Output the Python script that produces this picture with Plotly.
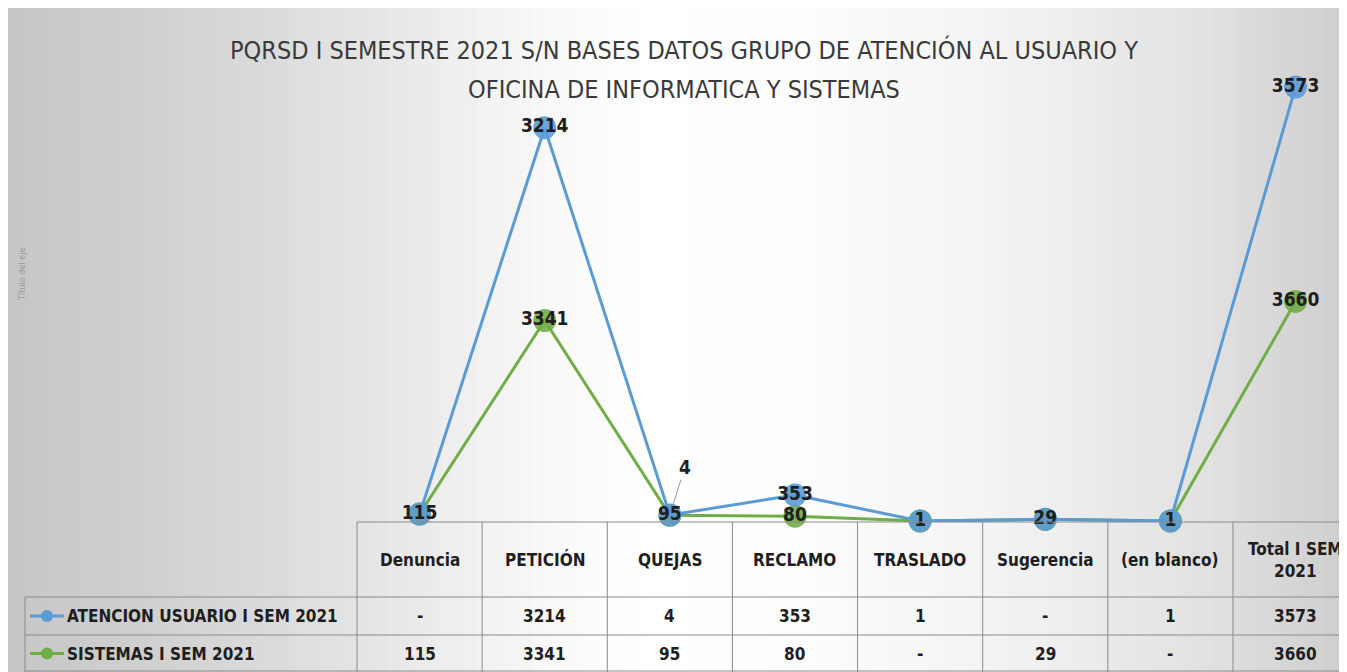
import plotly.graph_objects as go

# ---------------- data ----------------
categories = ["Denuncia", "PETICIÓN", "QUEJAS", "RECLAMO", "TRASLADO",
              "Sugerencia", "(en blanco)", "Total I SEM 2021"]
header_labels = ["Denuncia", "PETICIÓN", "QUEJAS", "RECLAMO", "TRASLADO",
                 "Sugerencia", "(en blanco)", "Total I SEM<br>2021"]
atencion = [0, 3214, 4, 353, 1, 0, 1, 3573]
sistemas = [115, 3341, 95, 80, 0, 29, 0, 3660]
series_names = ["ATENCION USUARIO I SEM 2021", "SISTEMAS I SEM 2021"]
title_lines = ["PQRSD I SEMESTRE 2021 S/N BASES DATOS GRUPO DE ATENCIÓN AL USUARIO Y",
               "OFICINA DE INFORMATICA Y SISTEMAS"]

# page has an 8px body margin, so the figure covers screen px 8..1347 / 8..672
OFF = 8
W, H = 1347 - OFF, 672 - OFF
FONT = "Liberation Sans Narrow, DejaVu Sans Condensed, Arial Narrow, sans-serif"
BLUE = "#5b9bd5"
GREEN = "#70ad47"
TXT = "#1e1e1e"

# stacked line (Excel "stacked line"): sistemas at the bottom, atencion on top
stack_green = list(sistemas)
stack_blue = [a + s for a, s in zip(atencion, sistemas)]


def px_x(p):
    return (p - OFF) / W


def px_y(p):
    return (672 - p) / H


fig = go.Figure()

fig.add_trace(go.Scatter(x=categories, y=stack_green, mode="lines+markers",
                         line=dict(color=GREEN, width=3),
                         marker=dict(color=GREEN, size=23, opacity=0.9),
                         cliponaxis=False, showlegend=False, hoverinfo="skip"))
fig.add_trace(go.Scatter(x=categories, y=stack_blue, mode="lines+markers",
                         line=dict(color=BLUE, width=3),
                         marker=dict(color=BLUE, size=23, opacity=0.9),
                         cliponaxis=False, showlegend=False, hoverinfo="skip"))

green_text = [str(v) if v else "" for v in sistemas]
blue_text = [str(v) if v else "" for v in atencion]
blue_text[2] = ""  # QUEJAS label drawn with a leader line
for ys, txt in ((stack_green, green_text), (stack_blue, blue_text)):
    fig.add_trace(go.Scatter(x=categories, y=ys, mode="text", text=txt,
                             textposition="middle center",
                             textfont=dict(family=FONT, size=19, color=TXT, weight="bold"),
                             cliponaxis=False, showlegend=False, hoverinfo="skip"))

annotations = []
annotations.append(dict(x=categories[2], y=stack_blue[2], xref="x", yref="y",
                        text=f"<b>{atencion[2]}</b>", showarrow=True, arrowhead=0,
                        arrowwidth=1, arrowcolor="#9a9a9a", ax=15, ay=-48, standoff=11,
                        font=dict(family=FONT, size=19, color=TXT)))

annotations.append(dict(x=px_x(684), y=px_y(50), xref="paper", yref="paper",
                        text=title_lines[0], showarrow=False, xanchor="center", yanchor="middle",
                        font=dict(family=FONT, size=25, color="#3a3a3a")))
annotations.append(dict(x=px_x(684), y=px_y(90), xref="paper", yref="paper",
                        text=title_lines[1], showarrow=False, xanchor="center", yanchor="middle",
                        font=dict(family=FONT, size=25, color="#3a3a3a")))
annotations.append(dict(x=px_x(15), y=px_y(275), xref="paper", yref="paper",
                        text="Título del eje", showarrow=False, textangle=-90,
                        font=dict(family=FONT, size=9, color="#9a9a9a")))

# ---------------- data table ----------------
TOP, R1, R2, BOT = 522, 597, 635, 672
for i, lab in enumerate(header_labels):
    annotations.append(dict(x=categories[i], y=px_y((TOP + R1) / 2), xref="x", yref="paper",
                            text=f"<b>{lab}</b>", showarrow=False, xanchor="center",
                            yanchor="middle",
                            font=dict(family=FONT, size=17, color=TXT)))
for vals, yc in ((atencion, (R1 + R2) / 2), (sistemas, (R2 + BOT) / 2)):
    for i, v in enumerate(vals):
        annotations.append(dict(x=categories[i], y=px_y(yc), xref="x", yref="paper",
                                text=f"<b>{v if v else '-'}</b>", showarrow=False,
                                xanchor="center", yanchor="middle",
                                font=dict(family=FONT, size=17, color=TXT)))
for name, yc in zip(series_names, ((R1 + R2) / 2, (R2 + BOT) / 2)):
    annotations.append(dict(x=px_x(65), y=px_y(yc), xref="paper", yref="paper",
                            text=f"<b>{name}</b>", showarrow=False, xanchor="left",
                            yanchor="middle", font=dict(family=FONT, size=17, color=TXT)))

shapes = []
stops = [(8, 198), (150, 208), (350, 227), (550, 249), (650, 255), (800, 253),
         (1000, 243), (1200, 226), (1347, 206)]


def shade(xp):
    for (x0, c0), (x1, c1) in zip(stops[:-1], stops[1:]):
        if x0 <= xp <= x1:
            return c0 + (c1 - c0) * (xp - x0) / (x1 - x0)
    return stops[-1][1]


n = 120
step = (1347 - OFF) / n
for k in range(n):
    x0 = OFF + k * step
    x1 = min(x0 + step + 0.6, 1347)
    c = int(round(shade(x0 + step / 2)))
    shapes.append(dict(type="rect", xref="paper", yref="paper", layer="below",
                       x0=px_x(x0), x1=px_x(x1), y0=0, y1=1,
                       fillcolor=f"rgb({c},{c},{c})", line=dict(width=0)))

LC = "#8a8a8a"


def hline(y, xa, xb):
    shapes.append(dict(type="line", xref="paper", yref="paper", x0=px_x(xa), x1=px_x(xb),
                       y0=px_y(y), y1=px_y(y), line=dict(color=LC, width=1)))


def vline(x, ya, yb):
    shapes.append(dict(type="line", xref="paper", yref="paper", x0=px_x(x), x1=px_x(x),
                       y0=px_y(ya), y1=px_y(yb), line=dict(color=LC, width=1)))


hline(TOP, 357, 1347)
hline(R1, 25, 1347)
hline(R2, 25, 1347)
hline(BOT - 1, 25, 1347)
vline(25, R1, BOT)
for k in range(8):
    vline(357 + k * 125.14, TOP, BOT)

for col, yc in ((BLUE, (R1 + R2) / 2), (GREEN, (R2 + BOT) / 2)):
    shapes.append(dict(type="line", xref="paper", yref="paper", x0=px_x(30), x1=px_x(64),
                       y0=px_y(yc), y1=px_y(yc), line=dict(color=col, width=3)))
    shapes.append(dict(type="circle", xref="paper", yref="paper", x0=px_x(41), x1=px_x(53),
                       y0=px_y(yc - 6), y1=px_y(yc + 6), fillcolor=col, line=dict(width=0)))

# axes mapping: value 0 at screen y=521px, 0.06 px per unit
y_dom = [px_y(TOP), px_y(10)]
span = (TOP - 10) / 0.06
y_lo = -(TOP - 521) / 0.06
x_hi = -0.5 + (1347 - 357) / 125.14

fig.update_layout(
    width=W, height=H,
    margin=dict(l=0, r=0, t=0, b=0),
    paper_bgcolor="white", plot_bgcolor="rgba(0,0,0,0)",
    xaxis=dict(domain=[px_x(357), 1], range=[-0.5, x_hi], type="category",
               categoryarray=categories, showticklabels=False, showgrid=False,
               zeroline=False, showline=False, ticks=""),
    yaxis=dict(domain=y_dom, range=[y_lo, y_lo + span], showticklabels=False,
               showgrid=False, zeroline=False, showline=False, ticks=""),
    annotations=annotations, shapes=shapes,
    font=dict(family=FONT),
)

fig.write_html("out.html")
